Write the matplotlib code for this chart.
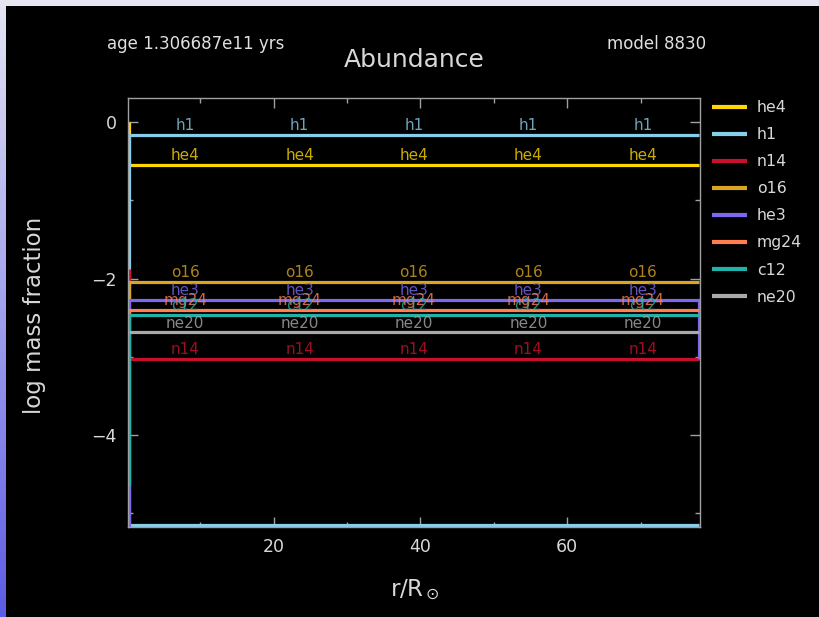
import matplotlib
matplotlib.use("Agg")
import matplotlib.pyplot as plt
import numpy as np
from matplotlib.ticker import MultipleLocator

# ---- data (log mass fraction profiles vs r/Rsun) ----
species = ['he4', 'h1', 'n14', 'o16', 'he3', 'mg24', 'c12', 'ne20']
colors = ['#FFD700', '#87CEEB', '#C8102E', '#DAA520', '#7B68EE', '#FF7F50', '#20B2AA', '#A9A9A9']

r_he4 = [78.0, 0.3, 0.3]
y_he4 = [-0.55, -0.55, 0.0]
r_h1 = [78.0, 0.3, 0.3, 78.0]
y_h1 = [-0.16, -0.16, -5.16, -5.16]
r_n14 = [78.0, 0.3, 0.3]
y_n14 = [-3.03, -3.03, -1.88]
r_o16 = [78.0, 0.3, 0.3]
y_o16 = [-2.04, -2.04, -2.27]
r_he3 = [78.0, 78.0, 0.3, 0.3]
y_he3 = [-3.03, -2.27, -2.27, -5.3]
r_mg24 = [78.0, 0.3, 0.3]
y_mg24 = [-2.40, -2.40, -2.47]
r_c12 = [78.0, 0.3, 0.3]
y_c12 = [-2.47, -2.47, -4.65]
r_ne20 = [78.0, 0.3]
y_ne20 = [-2.69, -2.69]

profiles_r = [r_he4, r_h1, r_n14, r_o16, r_he3, r_mg24, r_c12, r_ne20]
profiles_y = [y_he4, y_h1, y_n14, y_o16, y_he3, y_mg24, y_c12, y_ne20]
label_levels = [-0.55, -0.16, -3.03, -2.04, -2.27, -2.40, -2.47, -2.69]
label_fracs = [0.1, 0.3, 0.5, 0.7, 0.9]

age_text = 'age 1.306687e11 yrs'
model_text = 'model 8830'
title_text = 'Abundance'
xlabel_text = r'r/R$_\odot$'
ylabel_text = 'log mass fraction'

xlim = (0.15, 78.1)
ylim = (-5.18, 0.31)

# ---- figure ----
W, H = 819, 617
fig = plt.figure(figsize=(W / 100, H / 100), dpi=100, facecolor='black')

# lavender frame strips
top = fig.add_axes([0, 1 - 6 / H, 1, 6 / H])
top.set_axis_off()
top.add_patch(plt.Rectangle((0, 0), 1, 1, color='#e6e6f3', transform=top.transAxes))
left = fig.add_axes([0, 0, 6 / W, 1])
left.set_axis_off()
grad = np.linspace(0, 1, 256).reshape(-1, 1)
c_top = np.array([0.90, 0.90, 0.96])
c_bot = np.array([0.36, 0.36, 0.90])
img = c_top[None, None, :] * (1 - grad[:, :, None]) + c_bot[None, None, :] * grad[:, :, None]
left.imshow(img, aspect='auto', extent=[0, 1, 0, 1])

ax = fig.add_axes([128 / W, 1 - 527 / H, (700 - 128) / W, (527 - 98) / H])
ax.set_facecolor('black')

for name, c, rr, yy in zip(species, colors, profiles_r, profiles_y):
    ax.plot(rr, yy, color=c, lw=2.3, label=name, solid_capstyle='butt')

span = xlim[1] - xlim[0]
for name, c, lev in zip(species, colors, label_levels):
    for f in label_fracs:
        ax.annotate(name, xy=(xlim[0] + f * span, lev), xytext=(0, 3.5),
                    textcoords='offset points', ha='center', va='baseline',
                    color=c, alpha=0.8, fontsize=11)

ax.set_xlim(*xlim)
ax.set_ylim(*ylim)
ax.xaxis.set_major_locator(MultipleLocator(20))
ax.xaxis.set_minor_locator(MultipleLocator(10))
ax.yaxis.set_major_locator(MultipleLocator(2))
ax.yaxis.set_minor_locator(MultipleLocator(1))
ax.tick_params(which='both', direction='in', top=True, right=True,
               color='#a0a0a0', labelcolor='#d8d8d8', labelsize=12.5, width=1)
ax.tick_params(which='major', length=7, pad=8)
ax.tick_params(which='minor', length=3.5)
for s in ax.spines.values():
    s.set_color('#a0a0a0')
    s.set_linewidth(1)

fig.text(415 / W, 1 - 590 / H, xlabel_text, color='#d8d8d8', fontsize=16.5,
         ha='center', va='center')
fig.text(35 / W, 1 - 315 / H, ylabel_text, color='#d8d8d8', fontsize=16.5,
         ha='center', va='center', rotation=90)
fig.text(414 / W, 1 - 60 / H, title_text, color='#d8d8d8', fontsize=18,
         ha='center', va='center')
fig.text(107 / W, 1 - 44 / H, age_text, color='#e0e0e0', fontsize=12,
         ha='left', va='center')
fig.text(706 / W, 1 - 44 / H, model_text, color='#e0e0e0', fontsize=12,
         ha='right', va='center')

leg = ax.legend(loc='upper left', bbox_to_anchor=(712 / W, 1 - 100 / H),
                bbox_transform=fig.transFigure, frameon=False, fontsize=11.3,
                handlelength=2.2, handletextpad=0.65, labelspacing=0.77,
                borderpad=0, borderaxespad=0)
for t in leg.get_texts():
    t.set_color('#d8d8d8')
for l in leg.get_lines():
    l.set_linewidth(3)

fig.savefig('out.png', dpi=100, facecolor='black')
